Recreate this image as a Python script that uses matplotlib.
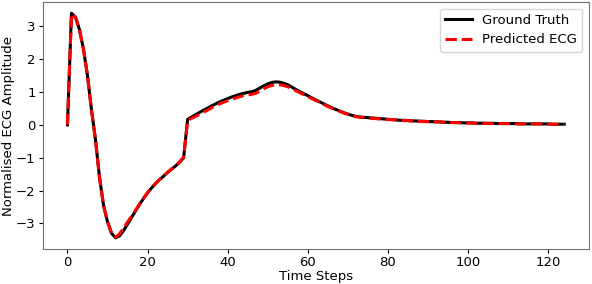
import numpy as np
import matplotlib
matplotlib.use("Agg")
import matplotlib.pyplot as plt

# ground truth ECG (one value per time step)
ground_truth = [
    0.00, 3.40, 3.28, 2.90, 2.30, 1.50, 0.45, -0.45, -1.60, -2.45,
    -2.95, -3.30, -3.44, -3.38, -3.22, -3.02, -2.82, -2.62, -2.42, -2.24,
    -2.07, -1.92, -1.79, -1.67, -1.56, -1.45, -1.35, -1.25, -1.14, -1.00,
    0.17, 0.24, 0.31, 0.38, 0.45, 0.51, 0.58, 0.64, 0.70, 0.75,
    0.80, 0.85, 0.89, 0.93, 0.96, 0.99, 1.01, 1.05, 1.12, 1.19,
    1.25, 1.29, 1.31, 1.30, 1.27, 1.22, 1.15, 1.08, 1.01, 0.95,
    0.89, 0.82, 0.76, 0.70, 0.64, 0.58, 0.52, 0.47, 0.42, 0.37,
    0.33, 0.29, 0.26, 0.24, 0.23, 0.22, 0.21, 0.20, 0.19, 0.18,
    0.17, 0.16, 0.15, 0.14, 0.14, 0.13, 0.12, 0.12, 0.11, 0.11,
    0.10, 0.10, 0.09, 0.09, 0.08, 0.08, 0.07, 0.07, 0.07, 0.06,
    0.06, 0.06, 0.05, 0.05, 0.05, 0.05, 0.05, 0.04, 0.04, 0.04,
    0.04, 0.04, 0.04, 0.03, 0.03, 0.03, 0.03, 0.03, 0.03, 0.03,
    0.03, 0.02, 0.02, 0.02, 0.02,
]

predicted = [
    0.00, 3.38, 3.27, 2.90, 2.30, 1.50, 0.45, -0.47, -1.60, -2.45,
    -2.95, -3.30, -3.42, -3.32, -3.14, -2.96, -2.78, -2.60, -2.41, -2.23,
    -2.06, -1.91, -1.78, -1.66, -1.55, -1.44, -1.34, -1.24, -1.13, -0.98,
    0.14, 0.20, 0.26, 0.32, 0.39, 0.45, 0.52, 0.58, 0.64, 0.69,
    0.74, 0.78, 0.82, 0.86, 0.89, 0.91, 0.93, 0.96, 1.03, 1.10,
    1.16, 1.20, 1.22, 1.22, 1.20, 1.16, 1.10, 1.04, 0.98, 0.92,
    0.86, 0.80, 0.74, 0.68, 0.62, 0.56, 0.51, 0.46, 0.41, 0.36,
    0.32, 0.28, 0.25, 0.23, 0.22, 0.21, 0.20, 0.19, 0.18, 0.17,
    0.16, 0.16, 0.15, 0.14, 0.13, 0.13, 0.12, 0.11, 0.11, 0.10,
    0.10, 0.09, 0.09, 0.09, 0.08, 0.08, 0.07, 0.07, 0.06, 0.06,
    0.06, 0.05, 0.05, 0.05, 0.05, 0.04, 0.04, 0.04, 0.04, 0.04,
    0.04, 0.03, 0.03, 0.03, 0.03, 0.03, 0.03, 0.03, 0.03, 0.02,
    0.02, 0.02, 0.02, 0.02, 0.02,
]

time_steps = np.arange(len(ground_truth))

fig = plt.figure(figsize=(5.92, 2.84), dpi=100)
ax = fig.add_axes([0.072, 0.123, 0.923, 0.870])

ax.plot(time_steps, ground_truth, color="black", linewidth=2.2, label="Ground Truth")
ax.plot(time_steps, predicted, color="red", linestyle="--", linewidth=2.2, label="Predicted ECG")

ax.set_xlabel("Time Steps", fontsize=9.5, labelpad=1)
ax.set_ylabel("Normalised ECG Amplitude", fontsize=9.5, labelpad=1)
ax.tick_params(labelsize=9.5, length=3, pad=2)
ax.set_yticks([-3, -2, -1, 0, 1, 2, 3])
for s in ax.spines.values():
    s.set_color("0.45")

ax.legend(loc="upper right", fontsize=9.5)

fig.savefig("out.png", dpi=100)
